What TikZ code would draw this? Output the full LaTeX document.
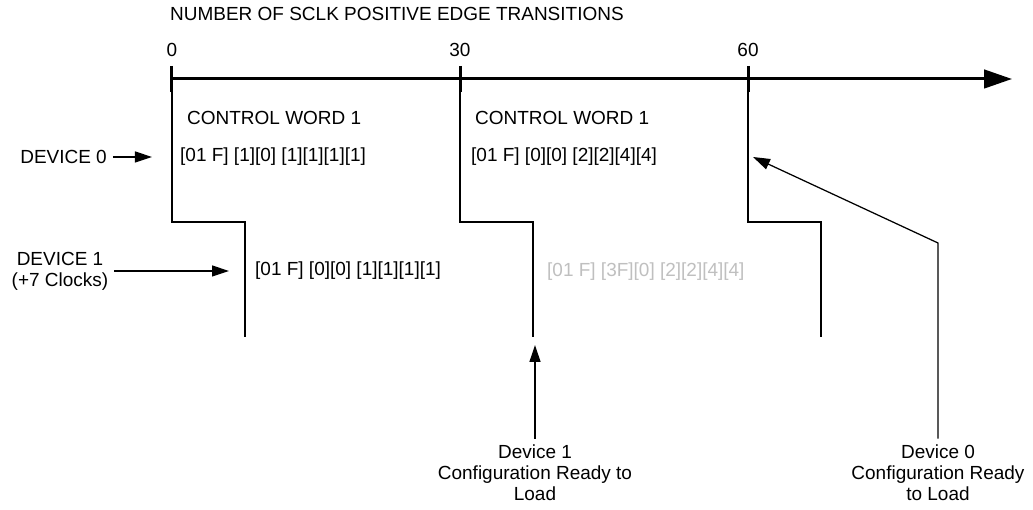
\documentclass[tikz,border=0pt]{standalone}
\usepackage{fontspec}
\setmainfont{Liberation Sans}
\usetikzlibrary{positioning, arrows.meta}

\begin{document}
\begin{tikzpicture}[>={Triangle[length=3.4mm, width=2.2mm]}, font=\fontsize{10.8}{12}\selectfont]
	\useasboundingbox (-3.44, 1.58) rectangle (17.22, -8.62);

	\node[anchor=west] (title) at (-0.16, 1.31) {NUMBER OF SCLK POSITIVE EDGE TRANSITIONS};

	\coordinate (axisstart) at (0, 0);
	\coordinate (axisend) at (16.8, 0);
	\draw [-{Triangle[length=5.6mm, width=3.7mm]}, line width=0.6mm] (axisstart) -- (axisend);

	\foreach \i/\n in {0/0, 1/30, 2/60} {
		\coordinate (tick\i) at (5.76*\i, 0);
		\node (count\i) at (5.76*\i, 0.58) {\n};
		\draw [line width=0.6mm] (tick\i) ++(0, 0.26) -- ++(0, -0.52);
		\draw [line width=0.25mm] (tick\i) |- ++(1.46, -2.86) -- ++(0, -2.3);
	}

	\node[anchor=west] (word1) at (0.18, -0.78) {CONTROL WORD 1};
	\node[anchor=west] (word2) at (5.94, -0.78) {CONTROL WORD 1};
	\node[anchor=west] (bits0a) at (0.04, -1.56) {[01 F] [1][0] [1][1][1][1]};
	\node[anchor=west] (bits0b) at (5.86, -1.56) {[01 F] [0][0] [2][2][4][4]};
	\node[anchor=west] (bits1a) at (1.54, -3.84) {[01 F] [0][0] [1][1][1][1]};
	\node[anchor=west] (bits1b) at (7.38, -3.86) {\textcolor{black!25}{[01 F] [3F][0] [2][2][4][4]}};

	\node[anchor=east] (dev0) at (-1.18, -1.56) {DEVICE 0};
	\coordinate (dev0in) at (-0.4, -1.56);
	\draw [->, line width=0.25mm] (dev0.east) -- (dev0in);

	\node[align=center] (dev1) at (-2.24, -3.84) {DEVICE 1\\(+7 Clocks)};
	\coordinate (dev1in) at (1.14, -3.84);
	\draw [->, line width=0.25mm] (dev1.east) -- (dev1in);

	\node[align=center] (ready1) at (7.26, -7.88) {Device 1\\Configuration Ready to\\Load};
	\coordinate (ready1tip) at (7.26, -5.32);
	\draw [->, line width=0.25mm] (ready1) -- (ready1tip);

	\node[align=center] (ready0) at (15.32, -7.88) {Device 0\\Configuration Ready\\to Load};
	\coordinate (ready0bend) at (15.32, -3.28);
	\coordinate (ready0tip) at (11.62, -1.56);
	\draw [->, line width=0.25mm] (ready0) -- (ready0bend) -- (ready0tip);
\end{tikzpicture}
\end{document}
